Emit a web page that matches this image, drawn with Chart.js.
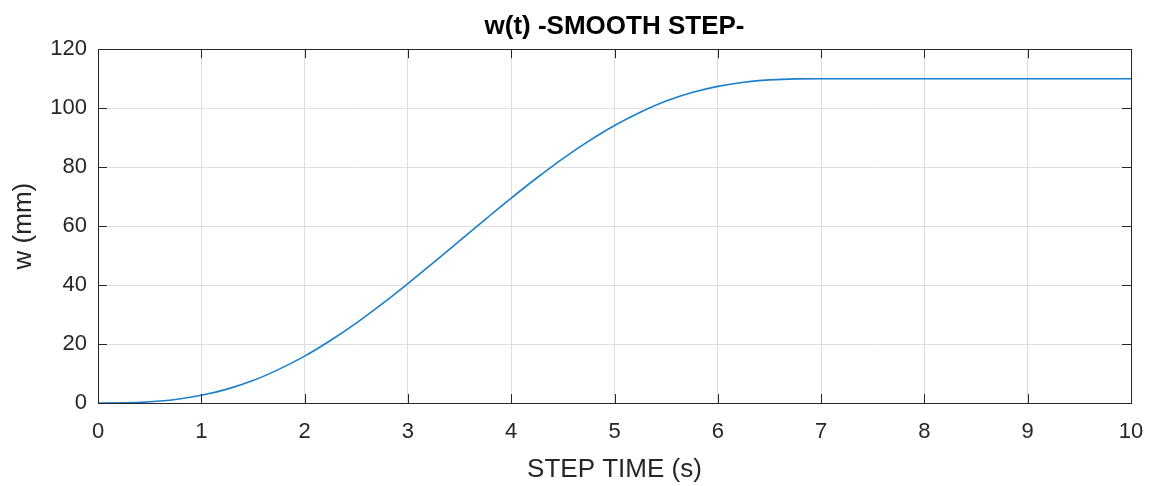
<!DOCTYPE html>
<html>
<head>
<meta charset="utf-8">
<title>w(t) -SMOOTH STEP-</title>
<script src="https://cdn.jsdelivr.net/npm/chart.js@4.4.1/dist/chart.umd.min.js"></script>
<style>
  html, body { margin: 0; padding: 0; background: #fff; }
  canvas { display: block; }
</style>
</head>
<body>
<canvas id="chart" width="1149" height="486"></canvas>
<script>
// values
const stepTime = [0, 0.25, 0.5, 0.75, 1, 1.25, 1.5, 1.75, 2, 2.25, 2.5, 2.75, 3, 3.25, 3.5,
  3.75, 4, 4.25, 4.5, 4.75, 5, 5.25, 5.5, 5.75, 6, 6.25, 6.5, 6.75, 7, 8, 9, 10];
const wValues = [0, 0.05, 0.4, 1.2, 2.6, 4.7, 7.6, 11.4, 15.9, 21.2, 27.1, 33.6, 40.5, 47.7, 55,
  62.3, 69.5, 76.4, 82.9, 88.8, 94.1, 98.6, 102.4, 105.3, 107.4, 108.8, 109.6, 109.95, 110, 110, 110, 110];

const xTicks = [0, 1, 2, 3, 4, 5, 6, 7, 8, 9, 10];
const yTicks = [0, 20, 40, 60, 80, 100, 120];

const AXIS_COLOR = '#262626';
const FONT = 'Liberation Sans, Arial, Helvetica, sans-serif';

// MATLAB-style box with ticks pointing inward
const boxPlugin = {
  id: 'matlabBox',
  afterDraw(chart) {
    const { ctx, chartArea: a, scales } = chart;
    const len = 9;
    ctx.save();
    ctx.strokeStyle = AXIS_COLOR;
    ctx.lineWidth = 1;
    ctx.beginPath();
    xTicks.forEach((v) => {
      const px = Math.round(scales.x.getPixelForValue(v)) + 0.5;
      ctx.moveTo(px, a.bottom);
      ctx.lineTo(px, a.bottom - len);
      ctx.moveTo(px, a.top);
      ctx.lineTo(px, a.top + len);
    });
    yTicks.forEach((v) => {
      const py = Math.round(scales.y.getPixelForValue(v)) + 0.5;
      ctx.moveTo(a.left, py);
      ctx.lineTo(a.left + len, py);
      ctx.moveTo(a.right, py);
      ctx.lineTo(a.right - len, py);
    });
    ctx.stroke();
    ctx.strokeRect(Math.round(a.left) + 0.5, Math.round(a.top) + 0.5,
      Math.round(a.right - a.left), Math.round(a.bottom - a.top));
    ctx.restore();
  },
};

new Chart(document.getElementById('chart'), {
  type: 'line',
  data: {
    datasets: [
      {
        label: 'w(t)',
        data: stepTime.map((t, i) => ({ x: t, y: wValues[i] })),
        borderColor: '#1b7fcc',
        borderWidth: 1.6,
        pointRadius: 0,
        fill: false,
        cubicInterpolationMode: 'monotone',
      },
    ],
  },
  options: {
    responsive: false,
    animation: false,
    layout: { padding: { right: 18 } },
    plugins: {
      legend: { display: false },
      tooltip: { enabled: false },
      title: {
        display: true,
        fullSize: false,
        text: 'w(t) -SMOOTH STEP-',
        color: '#000',
        font: { family: FONT, size: 26, weight: 'bold' },
        padding: { top: 11, bottom: 7 },
      },
    },
    scales: {
      x: {
        type: 'linear',
        min: 0,
        max: 10,
        afterBuildTicks: (scale) => {
          scale.ticks = xTicks.map((v) => ({ value: v }));
        },
        afterFit: (scale) => {
          scale.height = 83;
          scale.paddingLeft = 0;
          scale.paddingRight = 0;
        },
        grid: { color: '#dedede', drawTicks: false },
        border: { display: false },
        ticks: {
          color: AXIS_COLOR,
          padding: 16,
          maxRotation: 0,
          font: { family: FONT, size: 22 },
        },
        title: {
          display: true,
          text: 'STEP TIME (s)',
          color: AXIS_COLOR,
          font: { family: FONT, size: 26 },
          padding: { bottom: 1 },
        },
      },
      y: {
        min: 0,
        max: 120,
        afterBuildTicks: (scale) => {
          scale.ticks = yTicks.map((v) => ({ value: v }));
        },
        afterFit: (scale) => {
          scale.width = 98;
          scale.paddingTop = 0;
          scale.paddingBottom = 0;
        },
        grid: { color: '#dedede', drawTicks: false },
        border: { display: false },
        ticks: {
          color: AXIS_COLOR,
          padding: 11,
          font: { family: FONT, size: 22 },
        },
        title: {
          display: true,
          text: 'w (mm)',
          color: AXIS_COLOR,
          font: { family: FONT, size: 26 },
          padding: { top: 8 },
        },
      },
    },
  },
  plugins: [boxPlugin],
});
</script>
</body>
</html>
